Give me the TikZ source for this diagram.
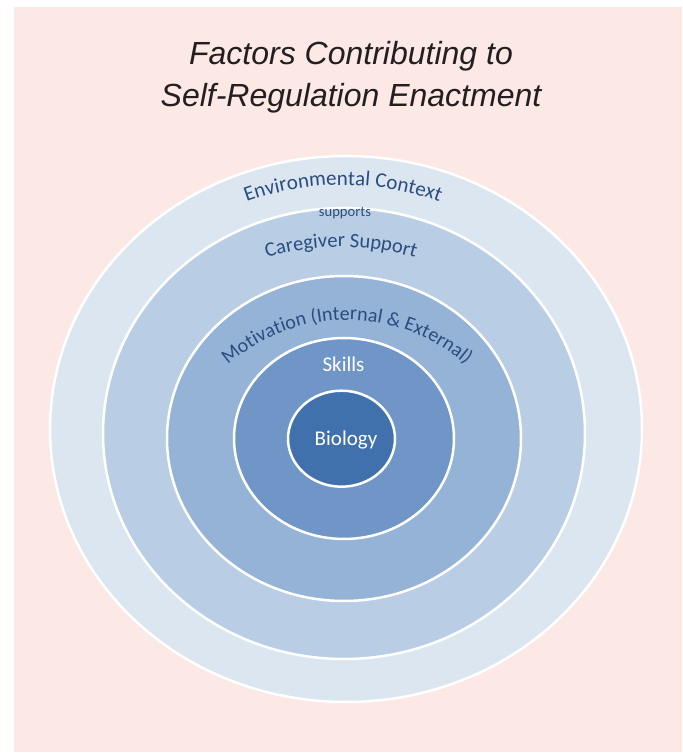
\documentclass[tikz,border=0pt]{standalone}
\usepackage{fontspec}
\setmainfont{Liberation Sans}
\newfontfamily\carlito{Carlito}
\usetikzlibrary{decorations.text}
\definecolor{bgpink}{HTML}{FCE8E5}
\definecolor{ringA}{HTML}{DCE6F1}
\definecolor{ringB}{HTML}{B9CDE5}
\definecolor{ringC}{HTML}{95B3D7}
\definecolor{ringD}{HTML}{6F96C7}
\definecolor{ringE}{HTML}{4171AD}
\definecolor{txtblue}{HTML}{2A4D80}
\definecolor{titlegray}{HTML}{231F20}
\tikzset{
  ring/.style={draw=white, line width=2.5pt},
  titletext/.style={anchor=base, inner sep=0pt, text=titlegray, font=\fontsize{32}{38}\selectfont\itshape},
  innertext/.style={anchor=base, inner sep=0pt, text=white, font=\carlito\fontsize{21}{25}\selectfont},
  smalltext/.style={anchor=base, inner sep=0pt, text=txtblue, font=\carlito\fontsize{14.6}{18}\selectfont},
  arctext/.style 2 args={decorate, decoration={text along path, text align=center, text color=txtblue, text={|\carlito\fontsize{#1}{25}\selectfont|#2}}}
}
\begin{document}
\begin{tikzpicture}[x=1pt,y=1pt]
\useasboundingbox (0,0) rectangle (683,753);
\fill[white] (0,0) rectangle (683,753);
\fill[bgpink] (14,1) rectangle (682,746);
% title
\node[titletext] (title1) at (351,688) {Factors Contributing to};
\node[titletext] (title2) at (351,646) {Self-Regulation Enactment};
% rings
\draw[ring, fill=ringA] (346,324) ellipse [x radius=296, y radius=273];
\draw[ring, fill=ringB] (344,319.5) ellipse [x radius=241, y radius=225.5];
\draw[ring, fill=ringC] (344,314.5) ellipse [x radius=177, y radius=162.5];
\draw[ring, fill=ringD] (344,314.5) ellipse [x radius=110, y radius=100.5];
\draw[ring, fill=ringE] (341.5,314.3) ellipse [x radius=53.5, y radius=48];
% curved labels
\path[arctext={21}{Environmental Context}] (343,286) ++(120:282) arc[start angle=120, end angle=60, radius=282];
\path[arctext={20.5}{Caregiver Support}] (341,246) ++(120:260) arc[start angle=120, end angle=60, radius=260];
\path[arctext={20}{Motivation (Internal {\&} External)}] (347,253) ++(150:180) arc[start angle=150, end angle=30, radius=180];
% straight labels
\node[smalltext] (supports) at (345,536.3) {supports};
\node[innertext] (skills) at (343.5,381) {Skills};
\node[innertext] (biology) at (346,307) {Biology};
\end{tikzpicture}
\end{document}
